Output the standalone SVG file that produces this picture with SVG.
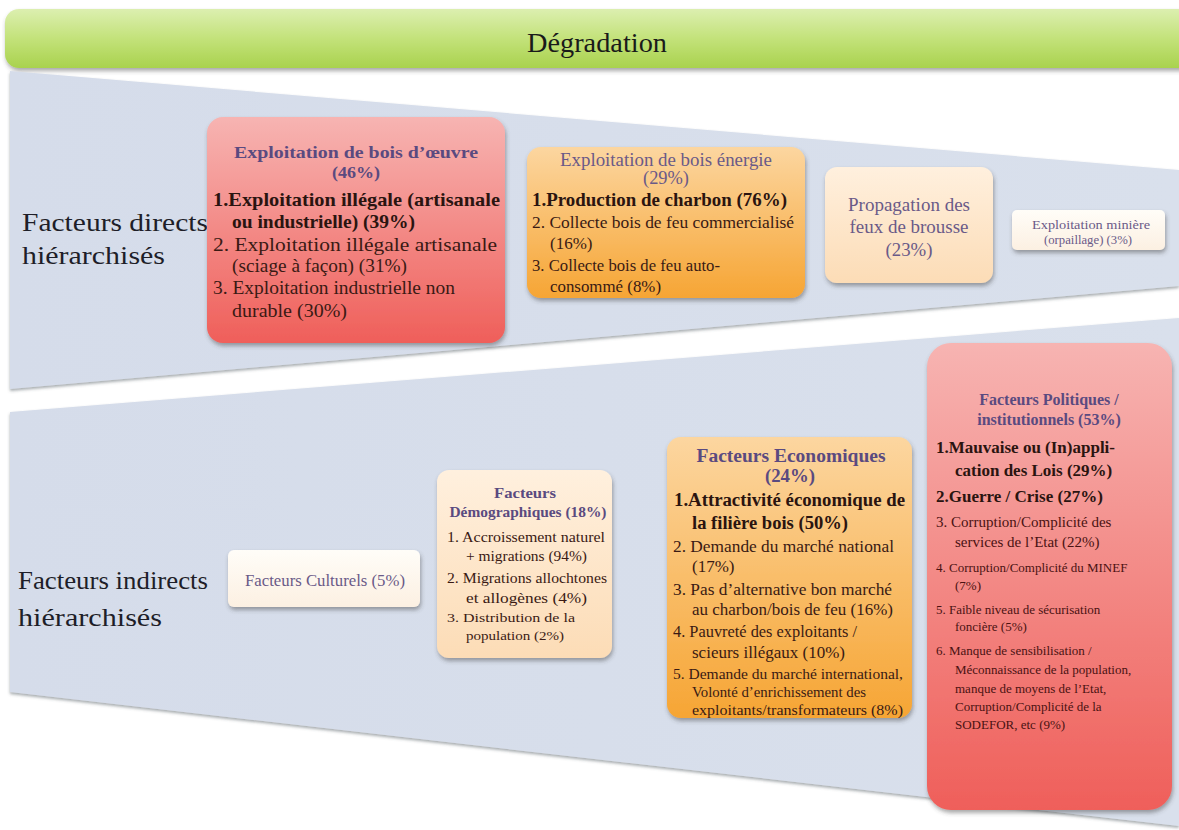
<svg xmlns="http://www.w3.org/2000/svg" width="1179" height="830" viewBox="0 0 1179 830">
<defs>
<linearGradient id="gGreen" x1="0" y1="0" x2="0" y2="1"><stop offset="0" stop-color="#dcefb0"/><stop offset="0.5" stop-color="#c3e27a"/><stop offset="1" stop-color="#a9d24e"/></linearGradient>
<linearGradient id="gRed" x1="0" y1="0" x2="0" y2="1"><stop offset="0" stop-color="#f7b4b2"/><stop offset="1" stop-color="#ef5f5a"/></linearGradient>
<linearGradient id="gOrange" x1="0" y1="0" x2="0" y2="1"><stop offset="0" stop-color="#fcd6a0"/><stop offset="1" stop-color="#f6a534"/></linearGradient>
<linearGradient id="gPeach" x1="0" y1="0" x2="0" y2="1"><stop offset="0" stop-color="#fff0de"/><stop offset="1" stop-color="#fcdcb6"/></linearGradient>
<linearGradient id="gPale" x1="0" y1="0" x2="0" y2="1"><stop offset="0" stop-color="#fffdf8"/><stop offset="1" stop-color="#fcf0e2"/></linearGradient>
<linearGradient id="gBand" x1="0" y1="0" x2="1" y2="0"><stop offset="0" stop-color="#d5dcea"/><stop offset="1" stop-color="#d9e0ec"/></linearGradient>
<filter id="sh" x="-10%" y="-10%" width="130%" height="130%"><feDropShadow dx="1" dy="3" stdDeviation="2" flood-color="#404040" flood-opacity="0.45"/></filter>
<filter id="bsh" x="-5%" y="-5%" width="110%" height="115%"><feDropShadow dx="0" dy="2" stdDeviation="1.5" flood-color="#505860" flood-opacity="0.5"/></filter>
</defs>
<style>
text{font-family:"Liberation Serif","Times New Roman",serif;}
.t{fill:#5a4a80;font-weight:bold;text-anchor:middle;}
.tr{fill:#6a5a88;text-anchor:middle;}
.b{fill:#2a1410;font-weight:bold;}
.r{fill:#3a1a14;}
.rp{fill:#4a1212;}
.lab{fill:#1e1e28;font-size:26px;}
</style>
<rect width="1179" height="830" fill="#ffffff"/>
<g id="title">
<rect x="5" y="9" width="1190" height="59" rx="14" fill="url(#gGreen)" filter="url(#sh)"/>
<text x="597" y="52" font-size="27" text-anchor="middle" fill="#1a1a1a" textLength="140" lengthAdjust="spacingAndGlyphs">Dégradation</text>
</g>
<g id="bands">
<polygon points="10,71 1179,170 1179,286 10,389" fill="url(#gBand)" filter="url(#bsh)"/>
<polygon points="10,412 1179,318 1179,826 10,692" fill="url(#gBand)" filter="url(#bsh)"/>
</g>
<g id="label-direct">
<text class="lab" x="22" y="231" textLength="186" lengthAdjust="spacingAndGlyphs">Facteurs directs</text>
<text class="lab" x="22" y="264" textLength="143" lengthAdjust="spacingAndGlyphs">hiérarchisés</text>
</g>
<g id="label-indirect">
<text class="lab" x="18" y="589" textLength="190" lengthAdjust="spacingAndGlyphs">Facteurs indirects</text>
<text class="lab" x="18" y="626" textLength="144" lengthAdjust="spacingAndGlyphs">hiérarchisés</text>
</g>
<g id="connectors"></g>
<g id="n-bois-oeuvre" font-size="19">
<rect x="207" y="117" width="298" height="226" rx="16" fill="url(#gRed)" filter="url(#sh)"/>
<text class="t" x="356" y="158" font-size="17" textLength="244" lengthAdjust="spacingAndGlyphs">Exploitation de bois d’œuvre</text>
<text class="t" x="356" y="178" font-size="17" textLength="48" lengthAdjust="spacingAndGlyphs">(46%)</text>
<text class="b" x="213" y="206" textLength="287" lengthAdjust="spacingAndGlyphs">1.Exploitation illégale (artisanale</text>
<text class="b" x="232" y="228" textLength="183" lengthAdjust="spacingAndGlyphs">ou industrielle) (39%)</text>
<text class="r" x="213" y="251" textLength="284" lengthAdjust="spacingAndGlyphs">2. Exploitation illégale artisanale</text>
<text class="r" x="232" y="272" textLength="175" lengthAdjust="spacingAndGlyphs">(sciage à façon) (31%)</text>
<text class="r" x="213" y="294" textLength="242" lengthAdjust="spacingAndGlyphs">3. Exploitation industrielle non</text>
<text class="r" x="232" y="317" textLength="115" lengthAdjust="spacingAndGlyphs">durable (30%)</text>
</g>
<g id="n-bois-energie" font-size="17">
<rect x="527" y="147" width="278" height="151" rx="14" fill="url(#gOrange)" filter="url(#sh)"/>
<text class="tr" x="666" y="166" font-size="18" textLength="212" lengthAdjust="spacingAndGlyphs">Exploitation de bois énergie</text>
<text class="tr" x="666" y="184" font-size="18" textLength="46" lengthAdjust="spacingAndGlyphs">(29%)</text>
<text class="b" x="532" y="206" font-size="18" textLength="255" lengthAdjust="spacingAndGlyphs">1.Production de charbon (76%)</text>
<text class="r" x="532" y="228" textLength="262" lengthAdjust="spacingAndGlyphs">2. Collecte bois de feu commercialisé</text>
<text class="r" x="550" y="249">(16%)</text>
<text class="r" x="532" y="271" textLength="188" lengthAdjust="spacingAndGlyphs">3. Collecte bois de feu auto-</text>
<text class="r" x="550" y="292" textLength="111" lengthAdjust="spacingAndGlyphs">consommé (8%)</text>
</g>
<g id="n-feux" font-size="18">
<rect x="825" y="167" width="168" height="116" rx="12" fill="url(#gPeach)" filter="url(#sh)"/>
<text class="tr" x="909" y="211" textLength="122" lengthAdjust="spacingAndGlyphs">Propagation des</text>
<text class="tr" x="909" y="233" textLength="119" lengthAdjust="spacingAndGlyphs">feux de brousse</text>
<text class="tr" x="909" y="256" textLength="47" lengthAdjust="spacingAndGlyphs">(23%)</text>
</g>
<g id="n-miniere" font-size="13.5">
<rect x="1012" y="210" width="153" height="40" rx="5" fill="url(#gPale)" filter="url(#sh)"/>
<text class="tr" x="1091" y="229" textLength="118" lengthAdjust="spacingAndGlyphs">Exploitation minière</text>
<text class="tr" x="1088" y="244" textLength="88" lengthAdjust="spacingAndGlyphs">(orpaillage) (3%)</text>
</g>
<g id="n-culturels" font-size="16">
<rect x="228" y="550" width="192" height="57" rx="6" fill="url(#gPale)" filter="url(#sh)"/>
<text class="tr" x="325" y="586" textLength="160" lengthAdjust="spacingAndGlyphs">Facteurs Culturels (5%)</text>
</g>
<g id="n-demo" font-size="15.5">
<rect x="437" y="470" width="175" height="188" rx="12" fill="url(#gPeach)" filter="url(#sh)"/>
<text class="t" x="525" y="498" textLength="62" lengthAdjust="spacingAndGlyphs">Facteurs</text>
<text class="t" x="528" y="517" textLength="157" lengthAdjust="spacingAndGlyphs">Démographiques (18%)</text>
<text class="r" x="447" y="542" textLength="158" lengthAdjust="spacingAndGlyphs">1. Accroissement naturel</text>
<text class="r" x="466" y="561" textLength="121" lengthAdjust="spacingAndGlyphs">+ migrations (94%)</text>
<text class="r" x="447" y="583" textLength="160" lengthAdjust="spacingAndGlyphs">2. Migrations allochtones</text>
<text class="r" x="466" y="603" textLength="121" lengthAdjust="spacingAndGlyphs">et allogènes (4%)</text>
<text class="r" x="447" y="622" font-size="13" textLength="128" lengthAdjust="spacingAndGlyphs">3. Distribution de la</text>
<text class="r" x="466" y="640" font-size="13" textLength="98" lengthAdjust="spacingAndGlyphs">population (2%)</text>
</g>
<g id="n-eco" font-size="17">
<rect x="667" y="437" width="245" height="281" rx="14" fill="url(#gOrange)" filter="url(#sh)"/>
<text class="t" x="791" y="462" font-size="18" textLength="189" lengthAdjust="spacingAndGlyphs">Facteurs Economiques</text>
<text class="t" x="790" y="482" font-size="18" textLength="50" lengthAdjust="spacingAndGlyphs">(24%)</text>
<text class="b" x="674" y="506" font-size="18" textLength="231" lengthAdjust="spacingAndGlyphs">1.Attractivité économique de</text>
<text class="b" x="692" y="529" font-size="18" textLength="156" lengthAdjust="spacingAndGlyphs">la filière bois (50%)</text>
<text class="r" x="673" y="552" textLength="221" lengthAdjust="spacingAndGlyphs">2. Demande du marché national</text>
<text class="r" x="692" y="572">(17%)</text>
<text class="r" x="673" y="595" textLength="219" lengthAdjust="spacingAndGlyphs">3. Pas d’alternative bon marché</text>
<text class="r" x="692" y="615" textLength="201" lengthAdjust="spacingAndGlyphs">au charbon/bois de feu (16%)</text>
<text class="r" x="673" y="637" textLength="184" lengthAdjust="spacingAndGlyphs">4. Pauvreté des exploitants /</text>
<text class="r" x="692" y="658">scieurs illégaux (10%)</text>
<text class="r" x="673" y="679" font-size="15" textLength="230" lengthAdjust="spacingAndGlyphs">5. Demande du marché international,</text>
<text class="r" x="692" y="697" font-size="15" textLength="174" lengthAdjust="spacingAndGlyphs">Volonté d’enrichissement des</text>
<text class="r" x="692" y="715" font-size="15" textLength="211" lengthAdjust="spacingAndGlyphs">exploitants/transformateurs (8%)</text>
</g>
<g id="n-politique">
<rect x="927" y="343" width="245" height="467" rx="24" fill="url(#gRed)" filter="url(#sh)"/>
<text class="t" x="1049" y="405" font-size="16">Facteurs Politiques /</text>
<text class="t" x="1049" y="425" font-size="16">institutionnels (53%)</text>
<text class="b" x="936" y="453" font-size="17">1.Mauvaise ou (In)appli-</text>
<text class="b" x="955" y="476" font-size="17">cation des Lois (29%)</text>
<text class="b" x="936" y="502" font-size="17">2.Guerre / Crise (27%)</text>
<text class="rp" x="936" y="527" font-size="15">3. Corruption/Complicité des</text>
<text class="rp" x="955" y="547" font-size="15">services de l’Etat (22%)</text>
<text class="rp" x="936" y="572" font-size="13">4. Corruption/Complicité du MINEF</text>
<text class="rp" x="955" y="590" font-size="13">(7%)</text>
<text class="rp" x="936" y="614" font-size="13">5. Faible niveau de sécurisation</text>
<text class="rp" x="955" y="631" font-size="13">foncière (5%)</text>
<text class="rp" x="936" y="655" font-size="13">6. Manque de sensibilisation /</text>
<text class="rp" x="955" y="674" font-size="13">Méconnaissance de la population,</text>
<text class="rp" x="955" y="693" font-size="13">manque de moyens de l’Etat,</text>
<text class="rp" x="955" y="711" font-size="13">Corruption/Complicité de la</text>
<text class="rp" x="955" y="729" font-size="13">SODEFOR, etc  (9%)</text>
</g>
</svg>
